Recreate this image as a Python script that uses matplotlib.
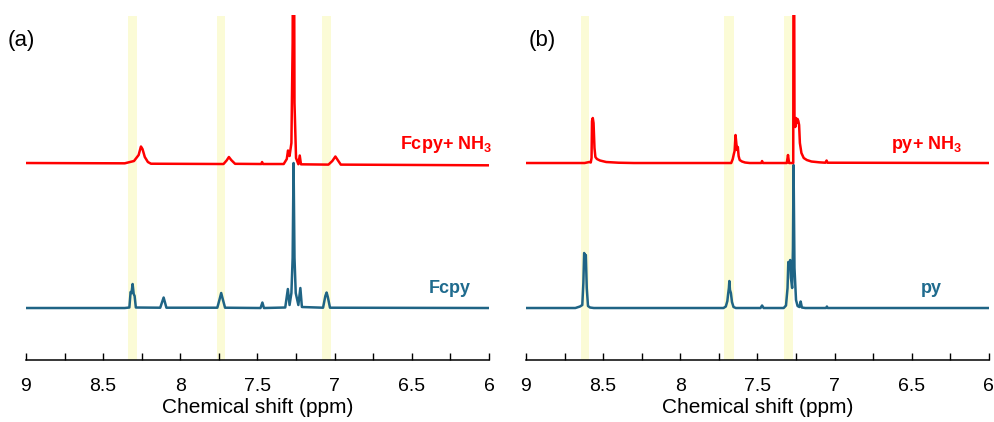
import matplotlib
matplotlib.use('Agg')
import matplotlib.pyplot as plt
from matplotlib.ticker import MultipleLocator

plt.rcParams['font.family'] = ['Liberation Sans', 'DejaVu Sans']
plt.rcParams['mathtext.fontset'] = 'custom'
plt.rcParams['mathtext.rm'] = 'Liberation Sans:bold'
plt.rcParams['mathtext.bf'] = 'Liberation Sans:bold'

# (a) Fcpy (ppm, intensity above its own baseline)
fcpy_ppm = [9.00, 8.36, 8.33, 8.322, 8.316, 8.309, 8.302, 8.296, 8.288,
            8.13, 8.108, 8.09, 7.76, 7.745, 7.735, 7.725, 7.71,
            7.48, 7.468, 7.458, 7.32, 7.303, 7.292, 7.28, 7.272, 7.266,
            7.26, 7.252, 7.235, 7.222, 7.212,
            7.075, 7.06, 7.052, 7.044, 7.03, 6.00]
fcpy_int = [0, 0, 0.5, 16, 15, 24, 14, 12, 0.5,
            0.3, 10.5, 0.3, 0.3, 9, 15, 9, 0.3,
            0, 5.5, 0, 0.5, 19, 3, 15, 50, 145,
            50, 15, 3, 20, 1,
            0.3, 12, 15.5, 11, 0.3, 0]

# (a) Fcpy + NH3
fcpy_nh3_ppm = [9.00, 8.36, 8.30, 8.27, 8.255, 8.245, 8.23, 8.21, 8.19,
                7.72, 7.70, 7.685, 7.67, 7.645, 7.475, 7.47, 7.465,
                7.33, 7.31, 7.302, 7.292, 7.28, 7.272, 7.266, 7.26, 7.25,
                7.235, 7.226, 7.218, 7.04, 7.015, 6.995, 6.98, 6.96, 6.00]
fcpy_nh3_int = [0, -0.3, 2, 8, 16.5, 14, 6, 1, -0.7,
                -1, 2.5, 6, 3, -0.8, -1, 1, -1,
                -1, 4, 12.5, 7, 20, 120, 400, 60, 5,
                -1.2, 7.5, -1.3, -1.6, 2, 6.5, 3, -1.6, -2.3]

# (b) py
py_ppm = [9.00, 8.68, 8.65, 8.635, 8.628, 8.623, 8.616, 8.612, 8.606, 8.598,
          8.585, 8.56, 7.72, 7.705, 7.695, 7.69, 7.685, 7.682, 7.678, 7.672,
          7.665, 7.655, 7.64, 7.48, 7.47, 7.46, 7.33, 7.315, 7.305, 7.30,
          7.293, 7.288, 7.283, 7.275, 7.27, 7.266, 7.26, 7.25, 7.24, 7.228,
          7.22, 7.212, 7.19, 7.055, 7.05, 7.045, 6.00]
py_int = [0, 0, 1.5, 3, 25, 55, 52, 53, 20, 2,
          0.5, 0, 0, 1.5, 7, 14, 20, 27, 18, 15,
          6, 1, 0, 0, 2.5, 0, 0, 2.5, 20, 46,
          40, 48, 30, 20, 60, 143, 40, 8, 2, 1,
          6.5, 0.5, 0, 0, 1.5, 0, 0]

# (b) py + NH3
py_nh3_ppm = [9.00, 8.62, 8.59, 8.58, 8.575, 8.572, 8.567, 8.562, 8.556, 8.55,
              8.54, 8.52, 8.48, 8.40, 8.30, 7.67, 7.66, 7.653, 7.648, 7.642,
              7.637, 7.632, 7.627, 7.622, 7.615, 7.60, 7.58, 7.55, 7.475, 7.47,
              7.465, 7.31, 7.302, 7.295, 7.268, 7.265, 7.26, 7.255, 7.25, 7.245,
              7.24, 7.235, 7.23, 7.225, 7.215, 7.20, 7.18, 7.15, 7.10, 7.06,
              7.052, 7.046, 6.00]
py_nh3_int = [0, 0, 1, 0.5, 5, 42, 45, 40, 15, 6,
              4, 2.5, 1, 0.3, 0, 0, 4, 9, 12, 28,
              20, 13, 16, 7, 3, 1.5, 0.5, 0, 0, 2,
              0, 0, 8, 0, 0, 400, 45, 36, 45, 40,
              44, 42, 38, 20, 10, 5, 3, 1.5, 0.7, 0.3,
              2.5, 0.3, 0]

# highlighted regions (ppm)
bands_a = [(8.339, 8.281), (7.762, 7.710), (7.082, 7.023)]
bands_b = [(8.646, 8.590), (7.715, 7.654), (7.330, 7.268)]

red = '#ff0000'
blue = '#1f6485'
blue_txt = '#1f6b8e'
band_col = '#fbfbd6'

lower = 52   # vertical offset of lower trace
upper = 197  # vertical offset of upper trace

fig = plt.figure(figsize=(9.95, 4.22), dpi=100)
ax1 = fig.add_axes([0.0261, 0.1469, 0.4653, 0.8175])
ax2 = fig.add_axes([0.5286, 0.1469, 0.4653, 0.8175])

panels = [
    (ax1, fcpy_ppm, fcpy_int, fcpy_nh3_ppm, fcpy_nh3_int, bands_a, '(a)',
     r'Fcpy+ NH$_3$', 'Fcpy', 5.98, 6.12, -0.04),
    (ax2, py_ppm, py_int, py_nh3_ppm, py_nh3_int, bands_b, '(b)',
     r'py+ NH$_3$', 'py', 6.175, 6.305, 0.006),
]

for (ax, lo_x, lo_y, up_x, up_y, bands, tag, up_lab, lo_lab,
     up_lx, lo_lx, tag_x) in panels:
    for b0, b1 in bands:
        ax.fill_between([b0, b1], 0, 345 - 0.5, color=band_col, zorder=0, lw=0)
    ax.plot(lo_x, [v + lower for v in lo_y], color=blue, lw=1.8, zorder=2)
    ax.plot(up_x, [v + upper for v in up_y], color=red, lw=1.8, zorder=3)

    ax.text(up_lx, 216, up_lab, color=red, fontsize=13, fontweight='bold',
            ha='right', va='center', clip_on=False)
    ax.text(lo_lx, 72, lo_lab, color=blue_txt, fontsize=13, fontweight='bold',
            ha='right', va='center', clip_on=False)
    ax.text(tag_x, 0.9275, tag, transform=ax.transAxes,
            fontsize=16, ha='left', va='center')

    ax.set_xlim(9, 6)
    ax.set_ylim(0, 345)
    ax.xaxis.set_minor_locator(MultipleLocator(0.25))
    ax.set_xticks([9, 8.5, 8, 7.5, 7, 6.5, 6])
    ax.set_xticklabels(['9', '8.5', '8', '7.5', '7', '6.5', '6'])
    ax.tick_params(axis='x', which='both', direction='in', length=5,
                   width=1, labelsize=14, pad=13)
    ax.set_yticks([])
    for s in ['top', 'left', 'right']:
        ax.spines[s].set_visible(False)
    ax.spines['bottom'].set_linewidth(1.1)
    ax.set_xlabel('Chemical shift (ppm)', fontsize=15, labelpad=2)
    ax.patch.set_alpha(0)

fig.savefig('out.png', dpi=100)
